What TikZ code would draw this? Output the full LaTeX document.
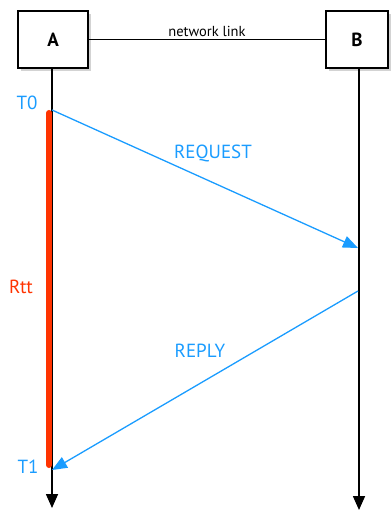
\documentclass[tikz,border=0pt]{standalone}
\usepackage{fontspec}
\setmainfont{PT Sans}
\usetikzlibrary{arrows.meta,shadows}
\definecolor{msgblue}{HTML}{1A9CFF}
\definecolor{rttred}{HTML}{FF3300}
\begin{document}
\begin{tikzpicture}[x=1pt,y=-1pt,
  hostbox/.style={draw,line width=1.6pt,fill=white,minimum width=70pt,minimum height=57pt,inner sep=0pt,font=\bfseries\fontsize{19}{22}\selectfont,drop shadow={shadow xshift=3pt,shadow yshift=-3pt,opacity=0.35}},
  life/.style={draw,line width=1.6pt,-{Triangle[length=14pt,width=12pt]}},
  msg/.style={draw=msgblue,line width=1.3pt,-{Triangle[length=15pt,width=12pt]}},
  bluelbl/.style={text=msgblue,font=\fontsize{19}{22}\selectfont},
]
\useasboundingbox (0,0) rectangle (390,510);
\node[hostbox] (A) at (53,39.5) {A};
\node[hostbox,minimum width=62pt] (B) at (357,39.5) {B};
\draw[line width=1.3pt] (A.east) -- node[above=-1pt,font=\fontsize{14.5}{17}\selectfont] (nl) {network link} (B.west);
\coordinate (t0) at (52,110);
\coordinate (t1) at (52,470);
\coordinate (rq) at (358,248);
\coordinate (rp) at (358,291);
\coordinate (aend) at (52,508);
\coordinate (bend) at (359,510);
\draw[life] (A.south -| t0) -- (aend);
\draw[life] (B.south -| bend) -- (bend);
\draw[rttred,line width=6pt,line cap=round] (49,113) -- (49,465);
\draw[msg] (t0) -- (rq);
\draw[msg] (rp) -- (t1);
\node[bluelbl] (T0) at (27,103) {T0};
\node[bluelbl] (T1) at (28,467) {T1};
\node[bluelbl] (req) at (213,153) {REQUEST};
\node[bluelbl] (rep) at (200,351) {REPLY};
\node[text=rttred,font=\fontsize{19}{22}\selectfont] (rtt) at (21,287) {Rtt};
\end{tikzpicture}
\end{document}
